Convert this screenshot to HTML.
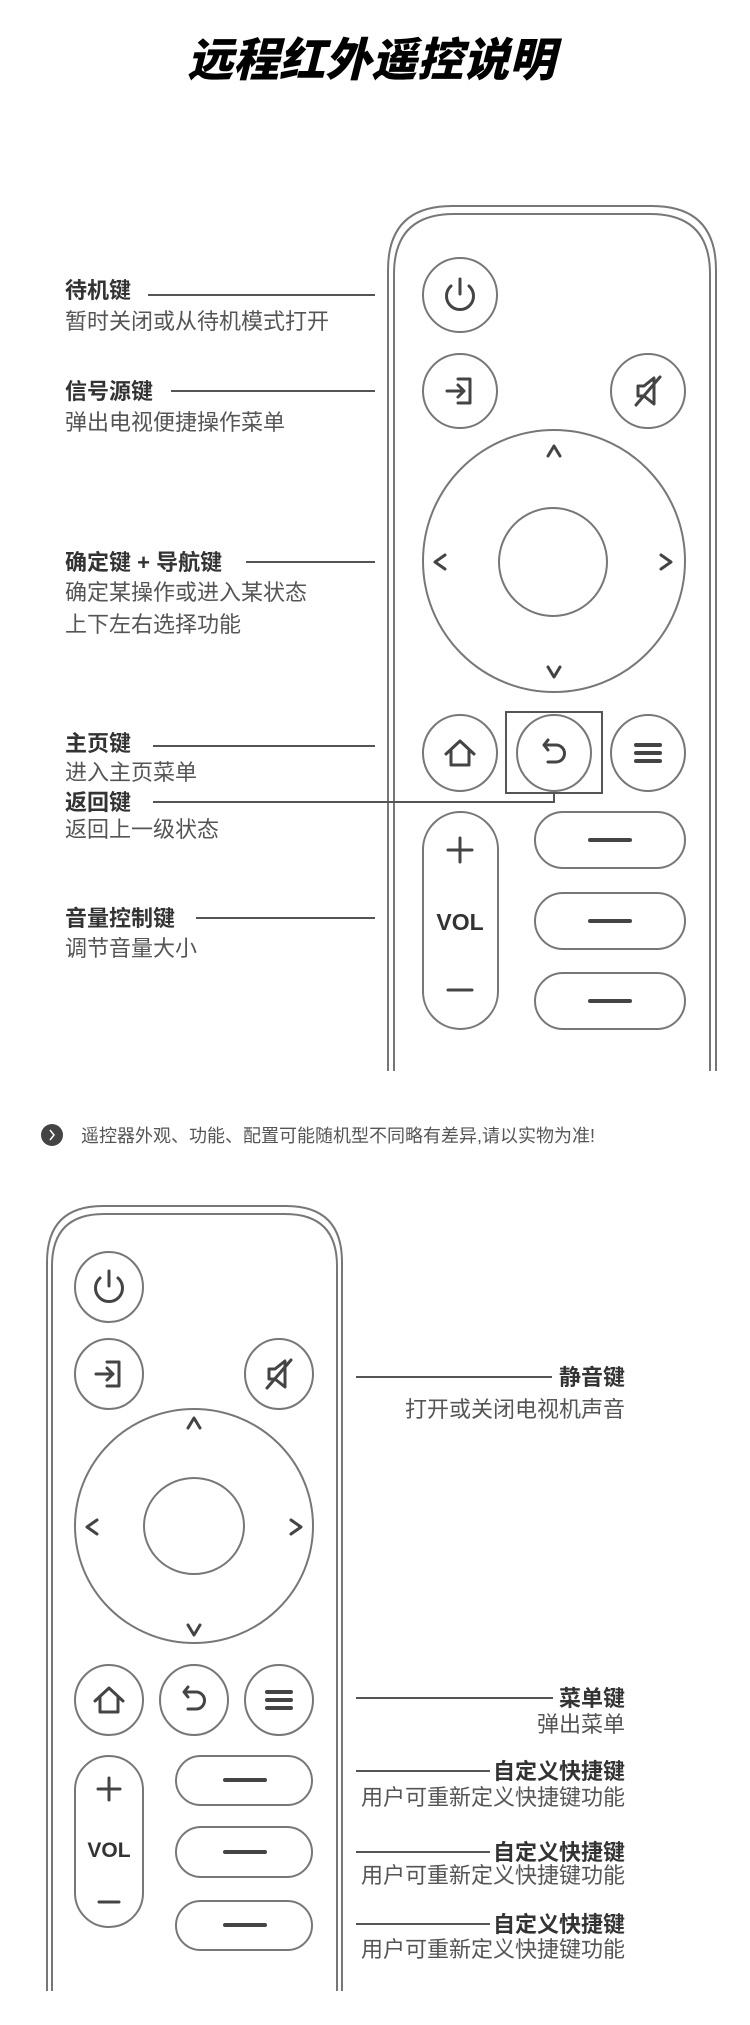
<!DOCTYPE html>
<html><head><meta charset="utf-8"><style>
html,body{margin:0;padding:0;background:#fff;}
svg{display:block;}
text{font-family:"Liberation Sans","Noto Sans CJK SC",sans-serif;}
.lb{font-size:22px;font-weight:bold;fill:#333;}
.ds{font-size:22px;fill:#555;}
.o{fill:none;stroke:#777;stroke-width:2;}
.ic{fill:none;stroke:#444;stroke-width:3;stroke-linecap:round;stroke-linejoin:round;}
.ln{stroke:#555;stroke-width:2;}
</style></head><body>
<svg width="750" height="2025" viewBox="0 0 750 2025" xmlns="http://www.w3.org/2000/svg">
<defs>
<g id="pw"><path class="ic" d="M -9 -10 A 13.5 13.5 0 1 0 9 -10"/><path class="ic" d="M0 -17 V -2"/></g>
<g id="inp"><path class="ic" d="M -2 -12 H 10 V 12 H -2"/><path class="ic" d="M -13 0 H 4 M -2 -6 L 4 0 L -2 6"/></g>
<g id="mute"><path class="ic" d="M -10 -5 H -4 L 6 -13 V 13 L -4 5 H -10 Z"/><path class="ic" d="M -12 14 L 12 -14"/></g>
<g id="home"><path class="ic" d="M -14 1 L 0 -12 L 14 1 M -9 -3 V 12 H 9 V -3"/></g>
<g id="back"><path class="ic" d="M -6 -13 L -10 -8 L -6 -3 M -10 -8 H 2 A 8.5 8.5 0 0 1 2 9 H -6"/></g>
<g id="menu"><path class="ic" style="stroke-width:4" d="M -12 -8 H 12 M -12 0 H 12 M -12 8 H 12"/></g>
<g id="up"><path class="ic" d="M -6 5 L 0 -5 L 6 5"/></g>
<g id="dn"><path class="ic" d="M -6 -5 L 0 5 L 6 -5"/></g>
<g id="lf"><path class="ic" d="M 5 -7 L -5 0 L 5 7"/></g>
<g id="rt"><path class="ic" d="M -5 -7 L 5 0 L -5 7"/></g>
<g id="dash"><path class="ic" style="stroke-width:4" d="M -20 0 H 20"/></g>
</defs>

<text x="371" y="76" text-anchor="middle" style="font-size:46px;font-weight:900;font-style:italic;fill:#000;font-family:'Noto Sans CJK SC',sans-serif;">远程红外遥控说明</text>

<!-- Remote 1 -->
<path class="o" d="M388 1071 V 270 Q388 206 452 206 H 652 Q716 206 716 270 V 1071"/>
<path class="o" d="M394 1071 V 274 Q394 214 454 214 H 650 Q710 214 710 274 V 1071"/>
<ellipse class="o" cx="460" cy="295" rx="37" ry="37"/><use href="#pw" x="460" y="296"/>
<ellipse class="o" cx="460" cy="391" rx="37" ry="37"/><use href="#inp" x="460" y="391"/>
<ellipse class="o" cx="648" cy="391" rx="37" ry="37"/><use href="#mute" x="648" y="391"/>
<ellipse class="o" cx="554" cy="561" rx="131" ry="131"/>
<ellipse class="o" cx="553" cy="562" rx="54" ry="54"/>
<use href="#up" x="554" y="451"/><use href="#dn" x="554" y="672"/>
<use href="#lf" x="440" y="562"/><use href="#rt" x="666" y="562"/>
<ellipse class="o" cx="460" cy="753" rx="37" ry="38"/><use href="#home" x="460" y="753"/>
<ellipse class="o" cx="554" cy="753" rx="37" ry="38"/><use href="#back" x="554" y="753"/>
<ellipse class="o" cx="648" cy="753" rx="37" ry="38"/><use href="#menu" x="648" y="753"/>
<rect x="506" y="712" width="96" height="81" fill="none" stroke="#555" stroke-width="2"/>
<rect class="o" x="423" y="812" width="75" height="217" rx="37.5"/>
<path class="ic" d="M460 838 V 862 M448 850 H 472"/>
<text x="460" y="930" text-anchor="middle" style="font-size:23px;font-weight:bold;fill:#333;">VOL</text>
<path class="ic" d="M448 990 H 472"/>
<rect class="o" x="535" y="812" width="150" height="56" rx="28"/><use href="#dash" x="610" y="840"/>
<rect class="o" x="535" y="893" width="150" height="56" rx="28"/><use href="#dash" x="610" y="921"/>
<rect class="o" x="535" y="973" width="150" height="56" rx="28"/><use href="#dash" x="610" y="1001"/>

<!-- left labels -->
<text class="lb" x="65" y="298">待机键</text><line class="ln" x1="148" y1="295" x2="375" y2="295"/>
<text class="ds" x="65" y="329">暂时关闭或从待机模式打开</text>
<text class="lb" x="65" y="399">信号源键</text><line class="ln" x1="171" y1="391" x2="375" y2="391"/>
<text class="ds" x="65" y="430">弹出电视便捷操作菜单</text>
<text class="lb" x="65" y="570">确定键 + 导航键</text><line class="ln" x1="246" y1="562" x2="375" y2="562"/>
<text class="ds" x="65" y="600">确定某操作或进入某状态</text>
<text class="ds" x="65" y="632">上下左右选择功能</text>
<text class="lb" x="65" y="751">主页键</text><line class="ln" x1="153" y1="746" x2="375" y2="746"/>
<text class="ds" x="65" y="780">进入主页菜单</text>
<text class="lb" x="65" y="810">返回键</text><path class="ln" fill="none" d="M153 802 H 554 V 793"/>
<text class="ds" x="65" y="837">返回上一级状态</text>
<text class="lb" x="65" y="926">音量控制键</text><line class="ln" x1="196" y1="918" x2="375" y2="918"/>
<text class="ds" x="65" y="956">调节音量大小</text>

<!-- note -->
<circle cx="52" cy="1135" r="11" fill="#444"/>
<path d="M50 1130 L54 1135 L50 1140" fill="none" stroke="#fff" stroke-width="1.5"/>
<text x="81" y="1142" style="font-size:18px;fill:#555;">遥控器外观、功能、配置可能随机型不同略有差异,请以实物为准!</text>

<!-- Remote 2 -->
<path class="o" d="M47 1991 V 1262 Q47 1206 103 1206 H 286 Q342 1206 342 1262 V 1991"/>
<path class="o" d="M52 1991 V 1266 Q52 1214 104 1214 H 285 Q337 1214 337 1266 V 1991"/>
<ellipse class="o" cx="109" cy="1287" rx="34" ry="35"/><use href="#pw" x="109" y="1288"/>
<ellipse class="o" cx="109" cy="1374" rx="34" ry="35"/><use href="#inp" x="109" y="1374"/>
<ellipse class="o" cx="279" cy="1374" rx="34" ry="35"/><use href="#mute" x="279" y="1374"/>
<ellipse class="o" cx="194" cy="1526" rx="119" ry="117"/>
<ellipse class="o" cx="194" cy="1526" rx="50" ry="48"/>
<use href="#up" x="194" y="1423"/><use href="#dn" x="194" y="1630"/>
<use href="#lf" x="92" y="1527"/><use href="#rt" x="296" y="1527"/>
<ellipse class="o" cx="109" cy="1700" rx="34" ry="35"/><use href="#home" x="109" y="1700"/>
<ellipse class="o" cx="194" cy="1700" rx="34" ry="35"/><use href="#back" x="194" y="1700"/>
<ellipse class="o" cx="279" cy="1700" rx="34" ry="35"/><use href="#menu" x="279" y="1700"/>
<rect class="o" x="75" y="1756" width="68" height="171" rx="34"/>
<path class="ic" d="M109 1778 V 1800 M98 1789 H 120"/>
<text x="109" y="1857" text-anchor="middle" style="font-size:21px;font-weight:bold;fill:#333;">VOL</text>
<path class="ic" d="M99 1902 H 119"/>
<rect class="o" x="176" y="1756" width="136" height="49" rx="24.5"/><use href="#dash" x="245" y="1780"/>
<rect class="o" x="176" y="1827" width="136" height="50" rx="25"/><use href="#dash" x="245" y="1852"/>
<rect class="o" x="176" y="1901" width="136" height="49" rx="24.5"/><use href="#dash" x="245" y="1925"/>

<!-- right labels -->
<line class="ln" x1="356" y1="1377" x2="552" y2="1377"/>
<text class="lb" x="625" y="1385" text-anchor="end">静音键</text>
<text class="ds" x="625" y="1417" text-anchor="end">打开或关闭电视机声音</text>
<line class="ln" x1="356" y1="1698" x2="553" y2="1698"/>
<text class="lb" x="625" y="1706" text-anchor="end">菜单键</text>
<text class="ds" x="625" y="1732" text-anchor="end">弹出菜单</text>
<line class="ln" x1="356" y1="1771" x2="490" y2="1771"/>
<text class="lb" x="625" y="1779" text-anchor="end">自定义快捷键</text>
<text class="ds" x="625" y="1805" text-anchor="end">用户可重新定义快捷键功能</text>
<line class="ln" x1="356" y1="1852" x2="490" y2="1852"/>
<text class="lb" x="625" y="1860" text-anchor="end">自定义快捷键</text>
<text class="ds" x="625" y="1883" text-anchor="end">用户可重新定义快捷键功能</text>
<line class="ln" x1="356" y1="1924" x2="490" y2="1924"/>
<text class="lb" x="625" y="1932" text-anchor="end">自定义快捷键</text>
<text class="ds" x="625" y="1957" text-anchor="end">用户可重新定义快捷键功能</text>
</svg>
</body></html>
